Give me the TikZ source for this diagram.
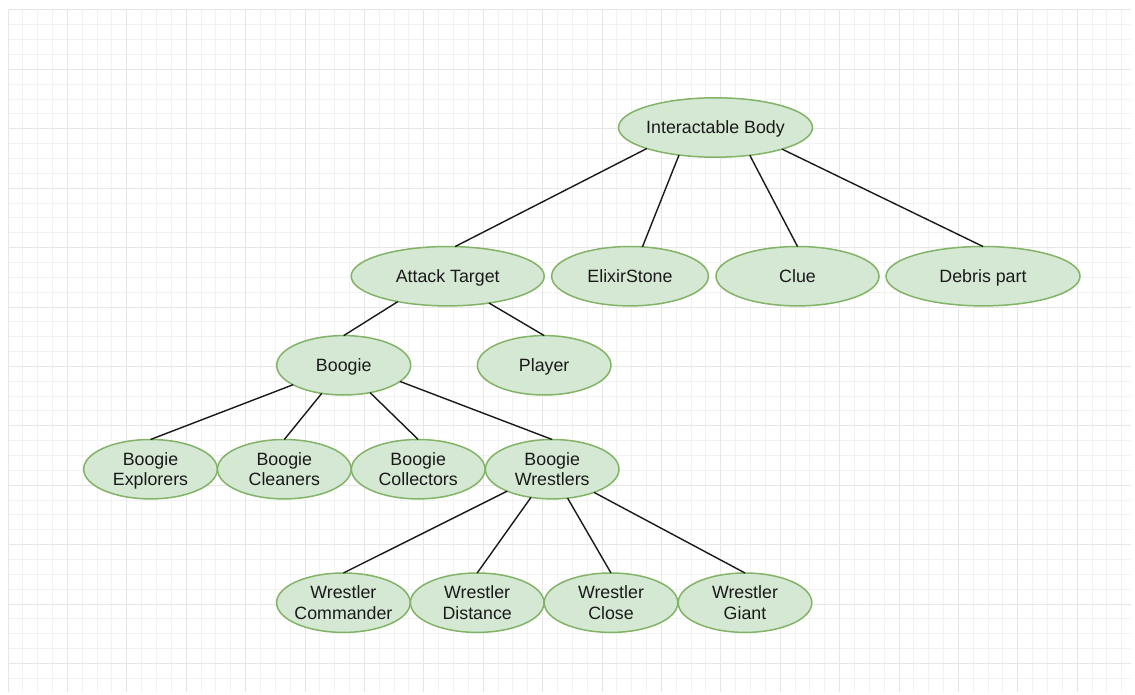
\documentclass[tikz,border=0pt]{standalone}
\usepackage{fontspec}
\setmainfont{Liberation Sans}
\usetikzlibrary{shapes.geometric}
\definecolor{nfill}{HTML}{D5E8D4}
\definecolor{ndraw}{HTML}{82B366}
\definecolor{gminor}{HTML}{F2F2F2}
\definecolor{gmajor}{HTML}{E6E6E6}
\definecolor{txt}{HTML}{1A1A1A}
\newcommand\onel[1]{\makebox[0pt]{\rule[-4.1pt]{0pt}{20.5pt}#1}}
\newcommand\twol[2]{\makebox[0pt]{\renewcommand\arraystretch{0.3}\begin{tabular}{@{}c@{}}\rule[-4.1pt]{0pt}{20.5pt}#1\\\rule[-4.1pt]{0pt}{20.5pt}#2\end{tabular}}}
\tikzset{
  ent/.style={ellipse, draw=ndraw, fill=nfill, line width=1.5pt, inner sep=0pt, outer sep=0pt,
    minimum height=59.4pt, text=txt, font=\fontsize{17.8}{20.5}\selectfont},
  link/.style={draw=black!90, line width=1.4pt},
  gridminor/.style={draw=gminor, line width=1pt},
  gridmajor/.style={draw=gmajor, line width=1pt}
}
\begin{document}
\begin{tikzpicture}[x=1pt,y=-1pt]
\useasboundingbox (0,0) rectangle (1135,695);
\fill[white] (0,0) rectangle (1135,695);
\begin{scope}
\clip (8,10) rectangle (1131,692);
\foreach \k in {0,...,75} {\pgfmathsetmacro\xx{8+\k*14.85}\draw[gridminor] (\xx,10) -- (\xx,692);}
\foreach \k in {0,...,46} {\pgfmathsetmacro\yy{10+\k*14.85}\draw[gridminor] (8,\yy) -- (1131,\yy);}
\foreach \k in {0,4,...,72} {\pgfmathsetmacro\xx{8+\k*14.85}\draw[gridmajor] (\xx,10) -- (\xx,692);}
\foreach \k in {0,4,...,44} {\pgfmathsetmacro\yy{10+\k*14.85}\draw[gridmajor] (8,\yy) -- (1131,\yy);}
\end{scope}

\node[ent, minimum width=194pt] (ib) at (715.5,127.5) {\onel{Interactable Body}};
\node[ent, minimum width=193pt] (at) at (447.7,276.2) {\onel{Attack Target}};
\node[ent, minimum width=156.7pt] (el) at (630,276.2) {\onel{ElixirStone}};
\node[ent, minimum width=163pt] (cl) at (797.5,276.2) {\onel{Clue}};
\node[ent, minimum width=194pt] (db) at (983,276.2) {\onel{Debris part}};
\node[ent, minimum width=134pt] (bo) at (343.7,365.3) {\onel{Boogie}};
\node[ent, minimum width=133.6pt] (pl) at (544.2,365.3) {\onel{Player}};
\node[ent, minimum width=133.6pt] (bex) at (150.5,469.2) {\twol{Boogie}{Explorers}};
\node[ent, minimum width=133.6pt] (bcl) at (284.3,469.2) {\twol{Boogie}{Cleaners}};
\node[ent, minimum width=133.6pt] (bco) at (418.2,469.2) {\twol{Boogie}{Collectors}};
\node[ent, minimum width=133.6pt] (bwr) at (552.2,469.2) {\twol{Boogie}{Wrestlers}};
\node[ent, minimum width=133.6pt] (wco) at (343.4,602.7) {\twol{Wrestler}{Commander}};
\node[ent, minimum width=133.6pt] (wdi) at (477.2,602.7) {\twol{Wrestler}{Distance}};
\node[ent, minimum width=133.6pt] (wcl) at (611,602.7) {\twol{Wrestler}{Close}};
\node[ent, minimum width=133.6pt] (wgi) at (745,602.7) {\twol{Wrestler}{Giant}};

\draw[link] (ib.197.7) -- (at.76);
\draw[link] (ib.217.1) -- (el.67.4);
\draw[link] (ib.321) -- (cl.north);
\draw[link] (ib.342.6) -- (db.north);
\draw[link] (at.207.4) -- (bo.north);
\draw[link] (at.327.7) -- (pl.north);
\draw[link] (bo.201.1) -- (bex.north);
\draw[link] (bo.232.5) -- (bcl.north);
\draw[link] (bo.314.9) -- (bco.north);
\draw[link] (bo.344) -- (bwr.north);
\draw[link] (bwr.206.7) -- (wco.north);
\draw[link] (bwr.233.9) -- (wdi.north);
\draw[link] (bwr.298.5) -- (wcl.north);
\draw[link] (bwr.331) -- (wgi.north);
\end{tikzpicture}
\end{document}
